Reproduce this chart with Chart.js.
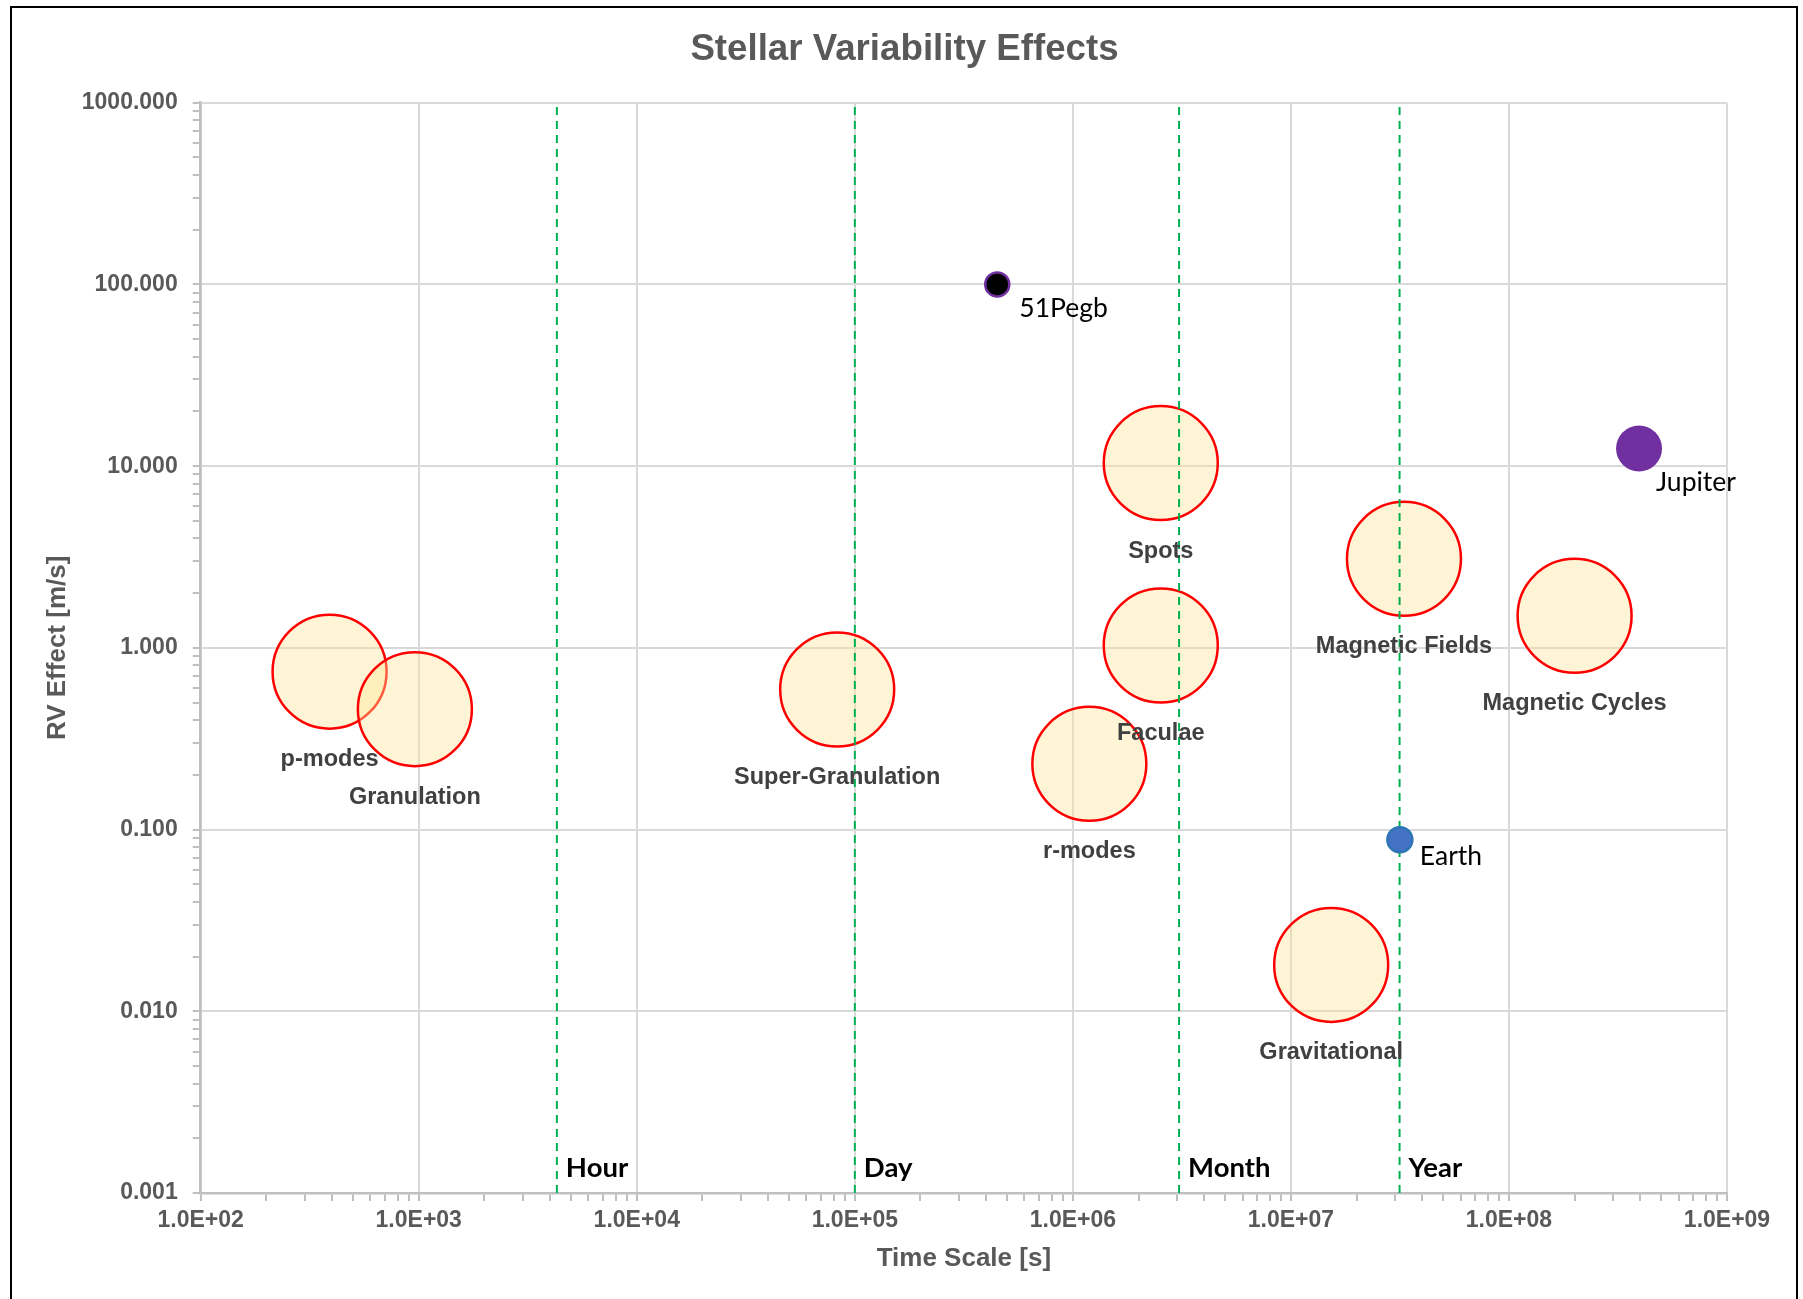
<!DOCTYPE html>
<html>
<head>
<meta charset="utf-8">
<script src="https://cdn.jsdelivr.net/npm/chart.js@4.4.1/dist/chart.umd.min.js"></script>
<style>
  html, body { margin: 0; padding: 0; background: #ffffff; }
  #wrap { position: relative; width: 1803px; height: 1299px; overflow: hidden; }
  #c { position: absolute; left: 0; top: 0; }
  #frame { position: absolute; left: 10px; top: 6px; width: 1788px; height: 1320px;
           border: 2.5px solid #000; box-sizing: border-box; pointer-events: none; }
</style>
</head>
<body>
<div id="wrap">
  <canvas id="c" width="1803" height="1299"></canvas>
  <div id="frame"></div>
</div>
<script>
// ---- Data ----
const bubbleNames = ['p-modes', 'Granulation', 'Super-Granulation', 'r-modes', 'Spots', 'Faculae', 'Magnetic Fields', 'Magnetic Cycles', 'Gravitational'];
const bubbleTime  = [390, 960, 8.3e4, 1.19e6, 2.53e6, 2.53e6, 3.3e7, 2.0e8, 1.53e7];
const bubbleRV    = [0.74, 0.46, 0.59, 0.23, 10.4, 1.03, 3.09, 1.50, 0.018];

const planetNames = ['51Pegb', 'Jupiter', 'Earth'];
const planetTime  = [4.5e5, 3.95e8, 3.16e7];
const planetRV    = [100, 12.5, 0.088];

const periodNames = ['Hour', 'Day', 'Month', 'Year'];
const periodTime  = [4.3e3, 1.0e5, 3.07e6, 3.15e7];

const xTickLabels = ['1.0E+02', '1.0E+03', '1.0E+04', '1.0E+05', '1.0E+06', '1.0E+07', '1.0E+08', '1.0E+09'];
const yTickLabels = ['0.001', '0.010', '0.100', '1.000', '10.000', '100.000', '1000.000'];
const xMinExp = 2, xMaxExp = 9;
const yMinExp = -3, yMaxExp = 3;

// ---- helpers ----
function isDecade(v) {
  const l = Math.log10(v);
  return Math.abs(l - Math.round(l)) < 1e-9;
}
function logTicks(minExp, maxExp) {
  const t = [];
  for (let e = minExp; e <= maxExp; e++) {
    for (let m = 1; m <= 9; m++) {
      if (e === maxExp && m > 1) break;
      t.push({ value: m * Math.pow(10, e), major: m === 1 });
    }
  }
  return t;
}

const FONT = "'Liberation Sans', Arial, sans-serif";
const GRID = '#d9d9d9';
const AXIS = '#bfbfbf';
const TXT = '#595959';

const bubbleData = bubbleTime.map((t, i) => ({ x: t, y: bubbleRV[i] }));
const planetData = planetTime.map((t, i) => ({ x: t, y: planetRV[i] }));

const periodDatasets = periodTime.map((t, i) => ({
  label: periodNames[i],
  type: 'scatter',
  data: [{ x: t, y: Math.pow(10, yMinExp) }, { x: t, y: Math.pow(10, yMaxExp) }],
  showLine: true,
  borderColor: '#00b050',
  borderWidth: 2,
  borderDash: [8, 6],
  pointRadius: 0,
  order: 2
}));

const labelPlugin = {
  id: 'labels',
  afterDatasetsDraw(chart) {
    const ctx = chart.ctx;
    const xs = chart.scales.x, ys = chart.scales.y;
    const area = chart.chartArea;
    ctx.save();
    // bubble labels
    ctx.font = "bold 23.5px " + FONT;
    ctx.fillStyle = '#404040';
    ctx.textAlign = 'center';
    ctx.textBaseline = 'middle';
    bubbleNames.forEach((n, i) => {
      const px = xs.getPixelForValue(bubbleTime[i]);
      const py = ys.getPixelForValue(bubbleRV[i]);
      ctx.fillText(n, px, py + 88);
    });
    // planet labels
    ctx.font = "26.5px Lato, 'Open Sans', sans-serif";
    ctx.fillStyle = '#000000';
    ctx.textAlign = 'left';
    const pOff = [[22, 24], [17, 34], [20, 17]];
    planetNames.forEach((n, i) => {
      const px = xs.getPixelForValue(planetTime[i]);
      const py = ys.getPixelForValue(planetRV[i]);
      ctx.fillText(n, px + pOff[i][0], py + pOff[i][1]);
    });
    // period labels
    ctx.font = "bold 27.5px Lato, 'Open Sans', sans-serif";
    periodNames.forEach((n, i) => {
      const px = xs.getPixelForValue(periodTime[i]);
      ctx.fillText(n, px + 9, area.bottom - 25);
    });
    ctx.restore();
  }
};

new Chart(document.getElementById('c'), {
  type: 'scatter',
  data: {
    datasets: [
      {
        label: 'Effects',
        data: bubbleData,
        backgroundColor: 'rgba(255, 230, 153, 0.40)',
        borderColor: '#ff0000',
        borderWidth: 2.5,
        pointRadius: 57,
        pointHoverRadius: 57,
        order: 3
      },
      ...periodDatasets,
      {
        label: 'Planets',
        data: planetData,
        backgroundColor: ['#000000', '#7030a0', '#4472c4'],
        borderColor: ['#7030a0', '#7030a0', '#2e75b6'],
        borderWidth: [2.5, 0, 2.5],
        pointRadius: [12, 23, 12.5],
        pointHoverRadius: [12, 23, 12.5],
        order: 1
      }
    ]
  },
  options: {
    responsive: false,
    animation: false,
    events: [],
    layout: { padding: { left: 6, right: 0, top: 0, bottom: 0 } },
    plugins: {
      legend: { display: false },
      tooltip: { enabled: false },
      title: {
        display: true,
        text: 'Stellar Variability Effects',
        color: TXT,
        font: { family: FONT, size: 36.7, weight: 'bold', lineHeight: 1.2 },
        padding: { top: 27.5, bottom: 31.2 }
      }
    },
    scales: {
      x: {
        type: 'logarithmic',
        position: 'bottom',
        min: Math.pow(10, xMinExp),
        max: Math.pow(10, xMaxExp),
        afterBuildTicks(scale) { scale.ticks = logTicks(xMinExp, xMaxExp); },
        afterFit(scale) { scale.height = 106; },
        grid: {
          color: c => (c.tick && isDecade(c.tick.value)) ? GRID : 'rgba(0,0,0,0)',
          lineWidth: 2,
          tickColor: AXIS,
          tickWidth: 2,
          tickLength: 8,
          drawTicks: true
        },
        border: { display: true, color: AXIS, width: 2.5 },
        ticks: {
          autoSkip: false,
          maxRotation: 0,
          minRotation: 0,
          padding: 6,
          color: TXT,
          font: { family: FONT, size: 23, weight: 'bold' },
          callback(v) {
            if (!isDecade(v)) return '';
            return xTickLabels[Math.round(Math.log10(v)) - xMinExp];
          }
        },
        title: {
          display: true,
          text: 'Time Scale [s]',
          color: TXT,
          font: { family: FONT, size: 26, weight: 'bold', lineHeight: 1.2 },
          padding: { top: 0, bottom: 24.5 }
        }
      },
      y: {
        type: 'logarithmic',
        position: 'left',
        min: Math.pow(10, yMinExp),
        max: Math.pow(10, yMaxExp),
        afterBuildTicks(scale) { scale.ticks = logTicks(yMinExp, yMaxExp); },
        afterFit(scale) { scale.width = 194.7; },
        grid: {
          color: c => (c.tick && isDecade(c.tick.value)) ? GRID : 'rgba(0,0,0,0)',
          lineWidth: 2,
          tickColor: AXIS,
          tickWidth: 2,
          tickLength: 8,
          drawTicks: true
        },
        border: { display: true, color: AXIS, width: 2.5 },
        ticks: {
          autoSkip: false,
          padding: 15,
          color: TXT,
          font: { family: FONT, size: 23, weight: 'bold' },
          callback(v) {
            if (!isDecade(v)) return '';
            return yTickLabels[Math.round(Math.log10(v)) - yMinExp];
          }
        },
        title: {
          display: true,
          text: 'RV Effect [m/s]',
          color: TXT,
          font: { family: FONT, size: 26, weight: 'bold', lineHeight: 1.2 },
          padding: { top: 36, bottom: 0 }
        }
      },
      yR: {
        type: 'linear',
        position: 'right',
        display: true,
        afterFit(scale) { scale.width = 76; },
        grid: { display: false, drawTicks: false },
        border: { display: false },
        ticks: { display: false }
      }
    }
  },
  plugins: [labelPlugin]
});
</script>
</body>
</html>
